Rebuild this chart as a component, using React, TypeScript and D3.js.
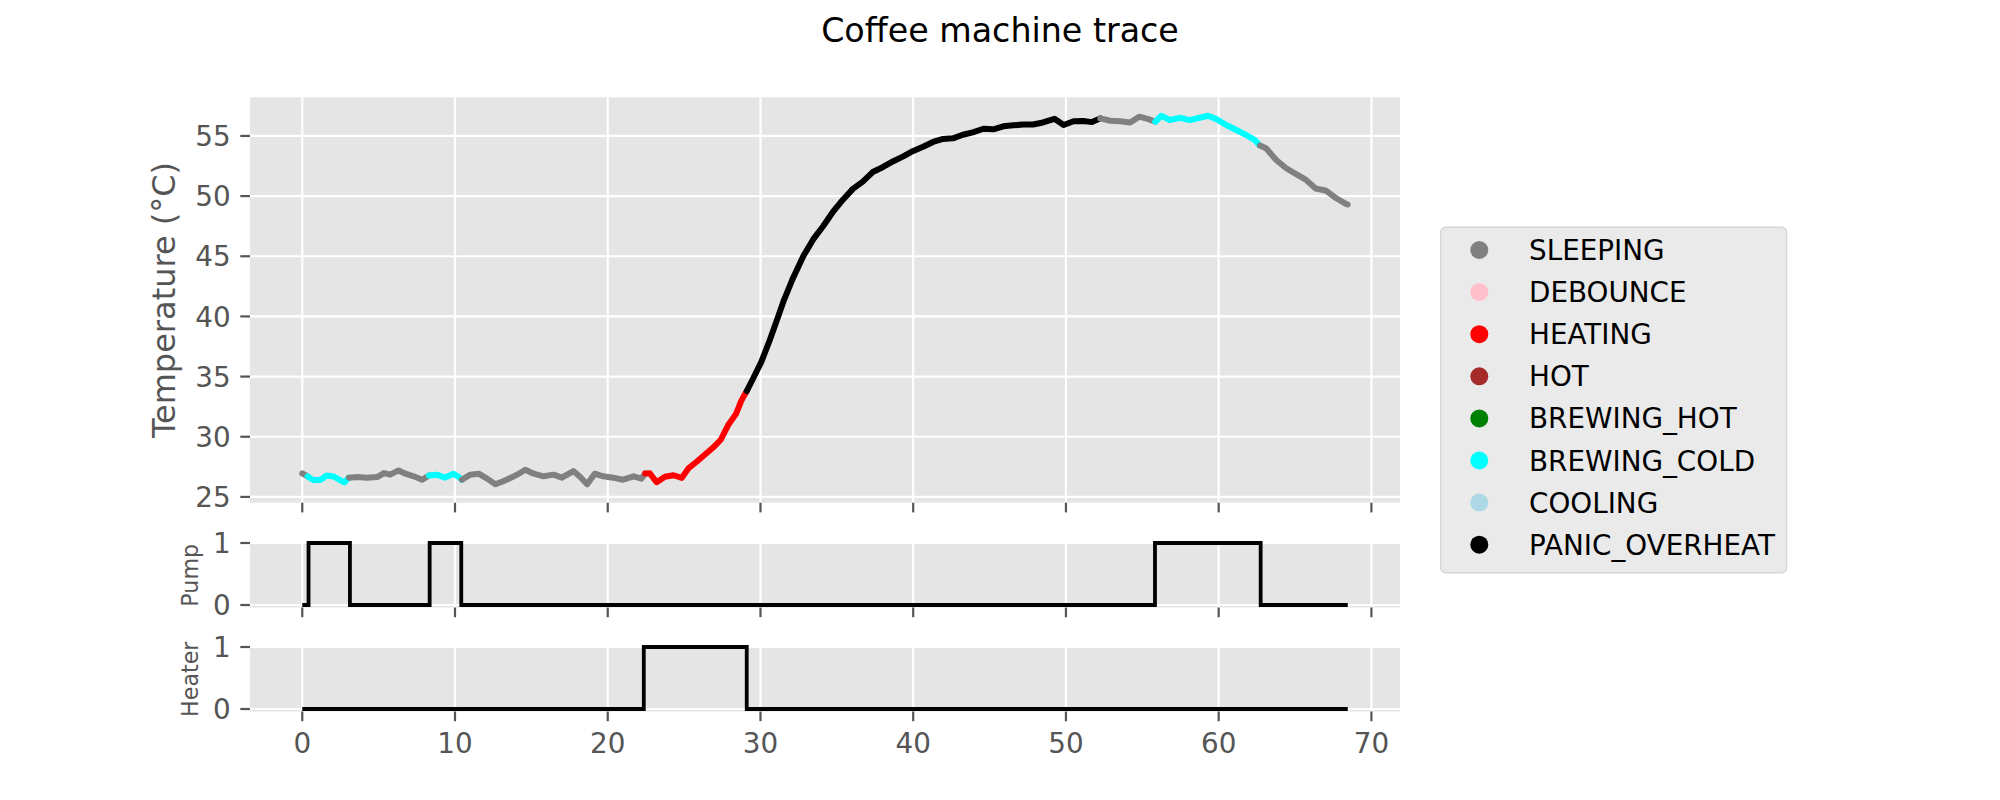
import * as d3 from 'd3'

// temperature trace (seconds, °C)
const timeS = [
  0.0, 0.35, 0.75, 1.2, 1.6, 2.05, 2.5, 2.75, 3.05, 3.6, 4.25, 4.9, 5.35, 5.75, 6.3, 6.75, 7.3, 7.85,
  8.3, 8.8, 9.35, 9.9, 10.25, 10.45, 11.0, 11.55, 12.1, 12.65, 13.2, 13.75, 14.25, 14.6, 15.15, 15.8,
  16.45, 17.0, 17.75, 18.2, 18.65, 19.15, 19.7, 20.35, 21.0, 21.7, 22.2, 22.45, 22.75, 23.2, 23.75,
  24.3, 24.85, 25.3, 25.8, 26.35, 26.9, 27.4, 27.9, 28.4, 28.75, 29.1, 29.5, 30.05, 30.6, 31.05, 31.55,
  32.1, 32.8, 33.45, 34.1, 34.75, 35.4, 36.05, 36.7, 37.35, 38.0, 38.7, 39.35, 40.0, 40.65, 41.3,
  41.95, 42.6, 43.25, 43.9, 44.6, 45.25, 45.9, 46.55, 47.2, 47.85, 48.5, 49.25, 49.85, 50.5, 51.15,
  51.7, 52.25, 52.9, 53.55, 54.2, 54.8, 55.4, 55.85, 56.25, 56.8, 57.45, 58.1, 58.75, 59.3, 59.85,
  60.5, 61.15, 61.8, 62.35, 62.7, 63.1, 63.75, 64.4, 65.05, 65.7, 66.35, 67.0, 67.65, 68.3, 68.45,
]
const tempC = [
  26.95, 26.7, 26.38, 26.43, 26.78, 26.7, 26.38, 26.2, 26.6, 26.65, 26.6, 26.65, 26.98, 26.85, 27.2,
  26.93, 26.71, 26.43, 26.78, 26.85, 26.6, 26.93, 26.65, 26.43, 26.85, 26.93, 26.52, 26.05, 26.32,
  26.65, 26.98, 27.26, 26.93, 26.71, 26.85, 26.6, 27.15, 26.65, 26.05, 26.93, 26.71, 26.6, 26.43,
  26.71, 26.52, 26.95, 26.97, 26.22, 26.68, 26.8, 26.58, 27.4, 27.9, 28.5, 29.1, 29.75, 31.0, 31.9,
  33.0, 33.8, 34.8, 36.2, 38.0, 39.6, 41.4, 43.1, 45.0, 46.4, 47.5, 48.7, 49.7, 50.6, 51.2, 52.0,
  52.4, 52.9, 53.3, 53.75, 54.1, 54.5, 54.75, 54.8, 55.1, 55.3, 55.6, 55.55, 55.8, 55.88, 55.95,
  55.95, 56.12, 56.42, 55.91, 56.22, 56.24, 56.15, 56.46, 56.26, 56.22, 56.12, 56.6, 56.4, 56.18,
  56.68, 56.32, 56.51, 56.32, 56.51, 56.68, 56.4, 55.91, 55.49, 55.08, 54.67, 54.2, 53.98, 53.02,
  52.34, 51.84, 51.37, 50.63, 50.47, 49.86, 49.37, 49.3,
]

const stateNames = ['SLEEPING', 'DEBOUNCE', 'HEATING', 'HOT', 'BREWING_HOT', 'BREWING_COLD', 'COOLING', 'PANIC_OVERHEAT']
const stateColors = ['#808080', '#ffc0cb', '#ff0000', '#a52a2a', '#008000', '#00ffff', '#add8e6', '#000000']

// state machine transitions
const changeTimes = [0, 0.45, 3.05, 8.3, 10.4, 22.4, 29.05, 52.2, 55.8, 62.7]
const changeStates = ['SLEEPING', 'BREWING_COLD', 'SLEEPING', 'BREWING_COLD', 'SLEEPING', 'HEATING',
  'PANIC_OVERHEAT', 'SLEEPING', 'BREWING_COLD', 'SLEEPING']

const pumpTimes = [0, 0.41, 3.12, 8.34, 10.41, 55.83, 62.75, 68.45]
const pumpOn = [0, 1, 0, 1, 0, 1, 0, 0]
const heaterTimes = [0, 22.36, 29.1, 68.45]
const heaterOn = [0, 1, 0, 0]

const xTicks = [0, 10, 20, 30, 40, 50, 60, 70]
const tempTicks = [25, 30, 35, 40, 45, 50, 55]
const onOffTicks = [0, 1]

const FONT = 'DejaVu Sans, sans-serif'
const TICK = '#555555'
const BG = '#E5E5E5'

function stateAt(t: number) {
  let s = changeStates[0]
  for (let i = 0; i < changeTimes.length; i++) if (t >= changeTimes[i]) s = changeStates[i]
  return s
}

export default function App() {
  const left = 250
  const right = 1400
  const mainTop = 97.3, mainBot = 502.7
  const pumpTop = 543, pumpBot = 607.5
  const heatTop = 647, heatBot = 711.5

  const [x0, x1] = d3.extent(timeS) as [number, number]
  const xPad = (x1 - x0) * 0.05
  const x = d3.scaleLinear().domain([x0 - xPad, x1 + xPad]).range([left, right])

  const [y0, y1] = d3.extent(tempC) as [number, number]
  const yPad = (y1 - y0) * 0.05
  const y = d3.scaleLinear().domain([y0 - yPad, y1 + yPad]).range([mainBot, mainTop])
  const yPump = d3.scaleLinear().domain([-0.04, 1]).range([pumpBot, pumpTop])
  const yHeat = d3.scaleLinear().domain([-0.04, 1]).range([heatBot, heatTop])

  // group consecutive segments by state
  const runs: { state: string, pts: [number, number][] }[] = []
  for (let i = 0; i < timeS.length - 1; i++) {
    const s = stateAt((timeS[i] + timeS[i + 1]) / 2)
    const last = runs[runs.length - 1]
    if (last && last.state === s) {
      last.pts.push([timeS[i + 1], tempC[i + 1]])
    } else {
      runs.push({ state: s, pts: [[timeS[i], tempC[i]], [timeS[i + 1], tempC[i + 1]]] })
    }
  }

  const traceLine = d3.line<[number, number]>().x(d => x(d[0])).y(d => y(d[1]))
  const stepLine = (ys: d3.ScaleLinear<number, number>) =>
    d3.line<[number, number]>().x(d => x(d[0])).y(d => ys(d[1])).curve(d3.curveStepAfter)

  const panel = (top: number, bot: number, ys: d3.ScaleLinear<number, number>, ticks: number[], label: string,
    labelSize: number, labelX: number, showX: boolean) => (
    <g>
      <rect x={left} y={top} width={right - left} height={bot - top} fill={BG} />
      {xTicks.map(t => (
        <line key={'gx' + t} x1={x(t)} x2={x(t)} y1={top} y2={bot} stroke="#fff" strokeWidth={2.2} />
      ))}
      {ticks.map(t => (
        <line key={'gy' + t} x1={left} x2={right} y1={ys(t)} y2={ys(t)} stroke="#fff" strokeWidth={2.2} />
      ))}
      {xTicks.map(t => (
        <line key={'tx' + t} x1={x(t)} x2={x(t)} y1={bot} y2={bot + 9.7} stroke={TICK} strokeWidth={2.2} />
      ))}
      {ticks.map(t => (
        <g key={'ty' + t}>
          <line x1={left - 9.7} x2={left} y1={ys(t)} y2={ys(t)} stroke={TICK} strokeWidth={2.2} />
          <text x={left - 19.4} y={ys(t) + 10.1} textAnchor="end" fontSize={27.8} fill={TICK} fontFamily={FONT}>{t}</text>
        </g>
      ))}
      {showX && xTicks.map(t => (
        <text key={'lx' + t} x={x(t)} y={bot + 41} textAnchor="middle" fontSize={27.8} fill={TICK} fontFamily={FONT}>{t}</text>
      ))}
      <text transform={`translate(${labelX},${(top + bot) / 2}) rotate(-90)`} textAnchor="middle"
        fontSize={labelSize} fill={TICK} fontFamily={FONT}>{label}</text>
    </g>
  )

  const legendX = 1440.7, legendY = 227.3
  const rowH = 42.1

  return (
    <svg width={2000} height={800} style={{ position: 'absolute', left: 0, top: 0, background: '#fff' }}>
      <text x={1000} y={42.3} textAnchor="middle" fontSize={33.3} fontFamily={FONT} fill="#000">Coffee machine trace</text>

      {panel(mainTop, mainBot, y, tempTicks, 'Temperature (°C)', 32, 175, false)}
      {panel(pumpTop, pumpBot, yPump, onOffTicks, 'Pump', 22.2, 198, false)}
      {panel(heatTop, heatBot, yHeat, onOffTicks, 'Heater', 22.2, 198, true)}

      {runs.map((r, i) => (
        <path key={'run' + i} d={traceLine(r.pts) ?? ''} fill="none"
          stroke={stateColors[stateNames.indexOf(r.state)]} strokeWidth={6}
          strokeLinecap="round" strokeLinejoin="round" />
      ))}

      <path d={stepLine(yPump)(pumpTimes.map((t, i) => [t, pumpOn[i]] as [number, number])) ?? ''}
        fill="none" stroke="#000" strokeWidth={3.8} />
      <path d={stepLine(yHeat)(heaterTimes.map((t, i) => [t, heaterOn[i]] as [number, number])) ?? ''}
        fill="none" stroke="#000" strokeWidth={3.8} />

      <g>
        <rect x={legendX} y={legendY} width={346} height={345.4} rx={5} fill="#EAEAEA" stroke="#D6D6D6" strokeWidth={1.4} />
        {stateNames.map((s, i) => (
          <g key={s}>
            <circle cx={1479.3} cy={250 + i * rowH} r={9} fill={stateColors[i]} />
            <text x={1529} y={260 + i * rowH} fontSize={27.8} fontFamily={FONT} fill="#000">{s}</text>
          </g>
        ))}
      </g>
    </svg>
  )
}
